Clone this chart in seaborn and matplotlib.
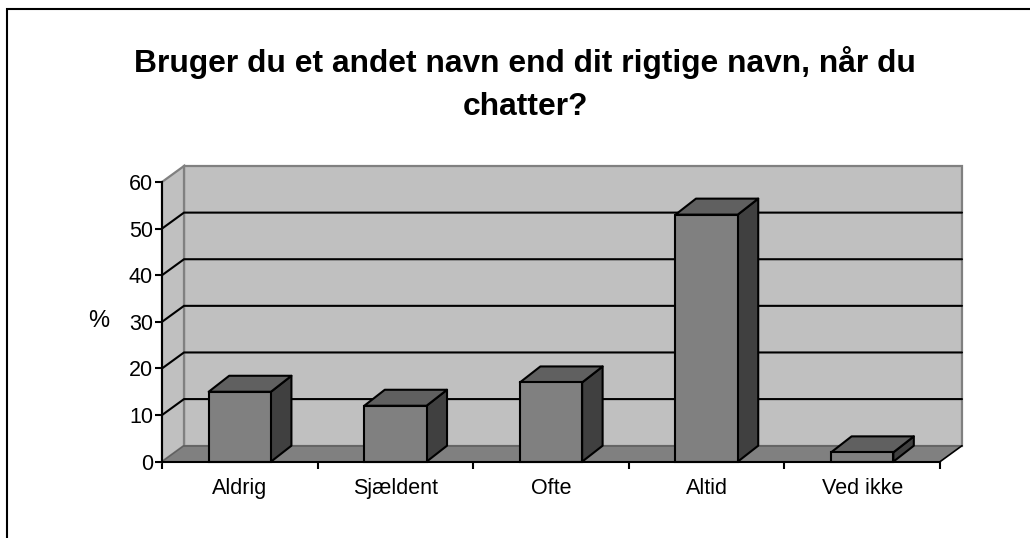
import matplotlib
matplotlib.use("Agg")
import matplotlib.pyplot as plt
from matplotlib.lines import Line2D
from matplotlib.patches import Polygon
from matplotlib.transforms import ScaledTranslation
import pandas as pd
import seaborn as sns

categories = ["Aldrig", "Sjældent", "Ofte", "Altid", "Ved ikke"]
values = [15, 12, 17, 53, 2]
y_ticks = [0, 10, 20, 30, 40, 50, 60]
title = "Bruger du et andet navn end dit rigtige navn, når du\nchatter?"

W, H = 1030, 538
sns.set_theme(style="white")
plt.rcParams["font.family"] = ["Liberation Sans", "DejaVu Sans"]

fig = plt.figure(figsize=(W / 100, H / 100), dpi=100, facecolor="white")
x0, x1, ytop, ybot = 162, 940, 182, 461.7
ax = fig.add_axes([x0 / W, 1 - ybot / H, (x1 - x0) / W, (ybot - ytop) / H])
ax.patch.set_alpha(0)

df = pd.DataFrame({"cat": categories, "val": values})
BAR_W = 0.40
sns.barplot(data=df, x="cat", y="val", ax=ax, color="#808080", saturation=1,
            width=BAR_W, edgecolor="black", linewidth=1.5, zorder=5, clip_on=False)
ax.set_xlim(-0.5, len(categories) - 0.5)
ax.set_ylim(0, 60)

# depth of the pseudo-3D box, expressed in data units
px_x = (x1 - x0) / len(categories)
px_y = (ybot - ytop) / 60
DX, DY = 22 / px_x, 16 / px_y
BX, BY = 20.5 / px_x, 16 / px_y
xl, xr = ax.get_xlim()
n = len(categories)

# walls and floor
ax.add_patch(Polygon([(xl, 0), (xl + DX, DY), (xr + DX, DY), (xr, 0)], closed=True,
                     fc="#808080", ec="none", zorder=1, clip_on=False))
ax.add_patch(Polygon([(xl + DX, DY), (xl + DX, 60 + DY), (xr + DX, 60 + DY), (xr + DX, DY)],
                     closed=True, fc="#C0C0C0", ec="#808080", lw=1.6, zorder=1, clip_on=False))
ax.add_patch(Polygon([(xl, 0), (xl, 60), (xl + DX, 60 + DY), (xl + DX, DY)], closed=True,
                     fc="#C0C0C0", ec="#808080", lw=1.6, zorder=1, clip_on=False))
ax.plot([xl + DX, xr + DX], [DY, DY], color="#606060", lw=1.2, zorder=1.5, clip_on=False)
ax.plot([xr, xr + DX], [0, DY], color="black", lw=1.2, zorder=1.5, clip_on=False)
ax.plot([xl, xl + DX], [0, DY], color="#606060", lw=1, zorder=1.5, clip_on=False)

# gridlines on the walls
for t in y_ticks[1:-1]:
    ax.plot([xl, xl + DX, xr + DX], [t, t + DY, t + DY], color="black", lw=1.5,
            zorder=2, clip_on=False, solid_joinstyle="miter")

# box sides and tops
for i, v in enumerate(values):
    l, r = i - BAR_W / 2, i + BAR_W / 2
    ax.add_patch(Polygon([(r, 0), (r + BX, BY), (r + BX, v + BY), (r, v)], closed=True,
                         fc="#404040", ec="black", lw=1.5, zorder=4, clip_on=False,
                         joinstyle="round"))
    ax.add_patch(Polygon([(l, v), (l + BX, v + BY), (r + BX, v + BY), (r, v)], closed=True,
                         fc="#606060", ec="black", lw=1.5, zorder=4, clip_on=False,
                         joinstyle="round"))

# axes
sns.despine(ax=ax, top=True, right=True)
for s in ("left", "bottom"):
    ax.spines[s].set_color("black")
    ax.spines[s].set_linewidth(1.5)
    ax.spines[s].set_zorder(6)
ax.set_yticks(y_ticks)
ax.set_xticks([i - 0.5 for i in range(n + 1)], minor=False)
ax.set_xticklabels([""] * (n + 1))
ax.tick_params(axis="both", direction="out", length=5, width=1.5, color="black",
               bottom=True, left=True, labelsize=15.5, labelcolor="black")
ax.tick_params(axis="y", pad=1.5)
for i, c in enumerate(categories):
    ax.text(i, 0, c, transform=ax.transData + ScaledTranslation(0, -0.16, fig.dpi_scale_trans),
            ha="center", va="top", fontsize=15.5, color="black")
ax.set_xlabel("")
ax.set_ylabel("")

fig.text(99 / W, 1 - 321 / H, "%", ha="center", va="center", fontsize=17, color="black")
fig.text(525 / W, 1 - 84 / H, title, ha="center", va="center", fontsize=22.9,
         fontweight="bold", color="black", linespacing=1.55)

# outer frame: the picture is cropped, so only the top and left edges show
fig.add_artist(Line2D([7 / W, 7 / W, 1], [0, 1 - 9 / H, 1 - 9 / H], transform=fig.transFigure,
                      color="black", lw=1.5, solid_joinstyle="miter"))

fig.savefig("out.png", dpi=100, facecolor="white")
